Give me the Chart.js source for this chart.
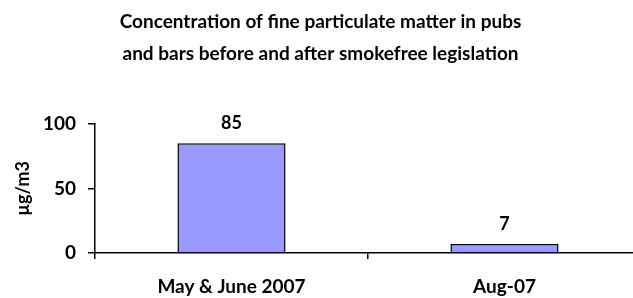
<!DOCTYPE html>
<html>
<head>
<meta charset="utf-8">
<script src="https://cdn.jsdelivr.net/npm/chart.js@4/dist/chart.umd.min.js"></script>
<style>
  html,body{margin:0;padding:0;background:#fff;overflow:hidden;}
  #wrap{position:absolute;left:0;top:0;width:660px;height:298px;}
</style>
</head>
<body>
<div id="wrap"><canvas id="pmChart"></canvas></div>
<script>
let categories=['May & June 2007','Aug-07'];
let pmValues=[85,7];
let yTicks=[0,50,100];
let titleLines=['Concentration of fine particulate matter in pubs','and bars before and after smokefree legislation'];
let yTitle='µg/m3';

const fontFam="Lato, 'Open Sans', sans-serif";

// value labels above the bars
const barLabels={
  id:'barLabels',
  afterDatasetsDraw(chart){
    const ctx=chart.ctx;
    const meta=chart.getDatasetMeta(0);
    ctx.save();
    ctx.font="bold 18px "+fontFam;
    ctx.fillStyle='#000';
    ctx.textAlign='center';
    ctx.textBaseline='middle';
    meta.data.forEach(function(bar,i){
      ctx.fillText(pmValues[i],bar.x,bar.y-20);
    });
    ctx.restore();
  }
};

new Chart('pmChart',{
  type:'bar',
  data:{
    labels:categories,
    datasets:[{
      data:pmValues,
      backgroundColor:'#9999FF',
      borderColor:'#000',
      borderWidth:1.5,
      categoryPercentage:1,
      barPercentage:0.396
    }]
  },
  options:{
    responsive:true,
    maintainAspectRatio:false,
    animation:false,
    layout:{padding:{left:0,right:19,top:0,bottom:0}},
    plugins:{
      legend:{display:false},
      tooltip:{enabled:false},
      title:{
        display:true,
        text:titleLines,
        color:'#000',
        font:{family:fontFam,size:19,weight:'bold',lineHeight:1.68},
        padding:{top:6,bottom:54}
      }
    },
    scales:{
      x:{
        grid:{display:true,drawOnChartArea:false,drawTicks:true,tickLength:6,color:'#000',lineWidth:1.5,offset:true},
        border:{display:true,color:'#000',width:1.5},
        ticks:{color:'#000',padding:16,font:{family:fontFam,size:19,weight:'bold'},maxRotation:0},
        afterFit(scale){scale.height=45;}
      },
      y:{
        min:0,max:100,
        afterBuildTicks(scale){scale.ticks=yTicks.map(v=>({value:v}));},
        grid:{display:true,drawOnChartArea:false,drawTicks:true,tickLength:7,color:'#000',lineWidth:1.5},
        border:{display:true,color:'#000',width:1.5},
        ticks:{color:'#000',padding:12,font:{family:fontFam,size:19,weight:'bold'}},
        title:{display:true,text:yTitle,color:'#000',font:{family:fontFam,size:18,weight:'bold'},padding:{top:12,bottom:0}},
        afterFit(scale){scale.width=95;}
      }
    }
  },
  plugins:[barLabels]
});
</script>
</body>
</html>
